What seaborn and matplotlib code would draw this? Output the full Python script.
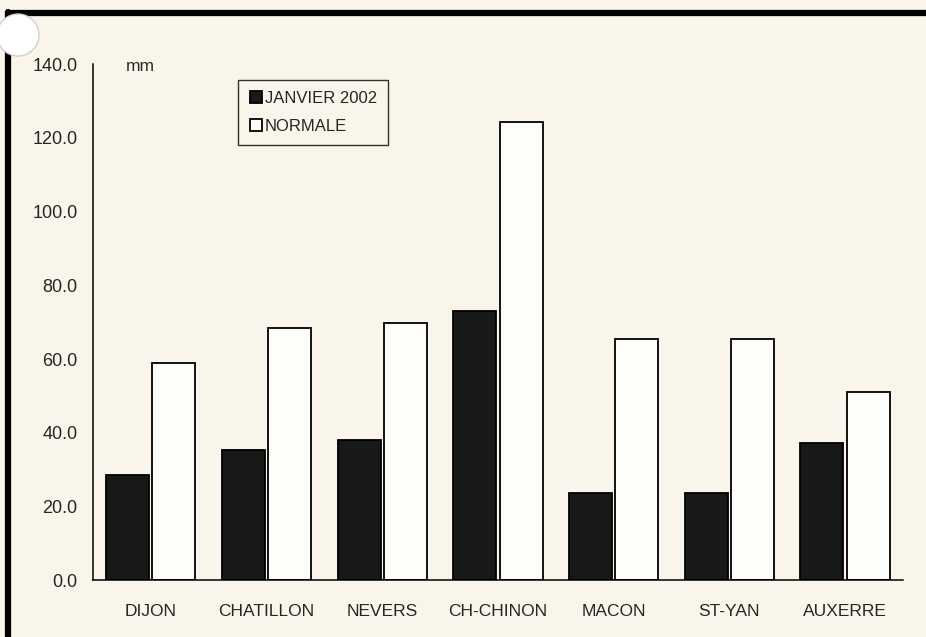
import numpy as np
import pandas as pd
import matplotlib
matplotlib.use("Agg")
import matplotlib.pyplot as plt
import seaborn as sns
from matplotlib.patches import Circle
from matplotlib.lines import Line2D

# --- donnees ---
stations = ["DIJON", "CHATILLON", "NEVERS", "CH-CHINON", "MACON", "ST-YAN", "AUXERRE"]
janvier_2002 = [28.6, 35.4, 38.1, 73.1, 23.6, 23.6, 37.4]
normale = [58.9, 68.4, 69.8, 124.4, 65.4, 65.4, 51.0]
series = ["JANVIER 2002", "NORMALE"]
yticks = [0, 20, 40, 60, 80, 100, 120, 140]

BG = "#f9f5ea"
DARK = "#151a18"

df = pd.DataFrame({
    "station": stations * 2,
    "serie": [series[0]] * len(stations) + [series[1]] * len(stations),
    "mm": janvier_2002 + normale,
})

sns.set_style("white")
plt.rcParams["font.family"] = ["Liberation Sans", "DejaVu Sans"]

fig = plt.figure(figsize=(9.26, 6.37), dpi=100, facecolor=BG)
ax = fig.add_axes([0.1004, 0.0887, 0.8746, 0.8108])
ax.set_facecolor(BG)

sns.barplot(data=df, x="station", y="mm", hue="serie", order=stations,
            hue_order=series, palette=[DARK, "#fefdf9"], edgecolor="black",
            linewidth=1.3, width=0.8, gap=0.07, ax=ax)

ax.set_ylim(0, 140)
ax.set_xlim(-0.5, len(stations) - 0.5)
ax.set_yticks(yticks)
ax.set_yticklabels([f"{v:.1f}" for v in yticks], fontsize=13)
ax.tick_params(axis="y", direction="out", length=5, width=1, color="black", pad=6)
ax.tick_params(axis="x", length=0, pad=17, labelsize=12.5)
ax.set_xlabel("")
ax.set_ylabel("")
for side in ["top", "right"]:
    ax.spines[side].set_visible(False)
for side in ["left", "bottom"]:
    ax.spines[side].set_color("black")
    ax.spines[side].set_linewidth(1.1)

ax.text(0.04, 0.995, "mm", transform=ax.transAxes, fontsize=12.5, va="center", ha="left")

leg = ax.legend(loc="upper left", bbox_to_anchor=(0.179, 0.97), borderaxespad=0,
                fontsize=12, frameon=True, fancybox=False, handlelength=0.75,
                handleheight=0.75, handletextpad=0.15, borderpad=0.7, labelspacing=0.75)
leg.get_frame().set_edgecolor("black")
leg.get_frame().set_facecolor(BG)
leg.get_frame().set_linewidth(1.0)

# cadre noir de la page scannee
fig.add_artist(Line2D([0.0085, 1.0], [0.979, 0.979], color="black", lw=4.5,
                      transform=fig.transFigure))
fig.add_artist(Line2D([0.0085, 0.0085], [0.0, 0.981], color="black", lw=4.5,
                      transform=fig.transFigure))
# trou de perforation
hole = Circle((18, 637 - 35), 21, transform=None, facecolor="white",
              edgecolor="#cfcfcf", lw=1, zorder=10)
fig.add_artist(hole)

fig.savefig("out.png", dpi=100, facecolor=BG)
